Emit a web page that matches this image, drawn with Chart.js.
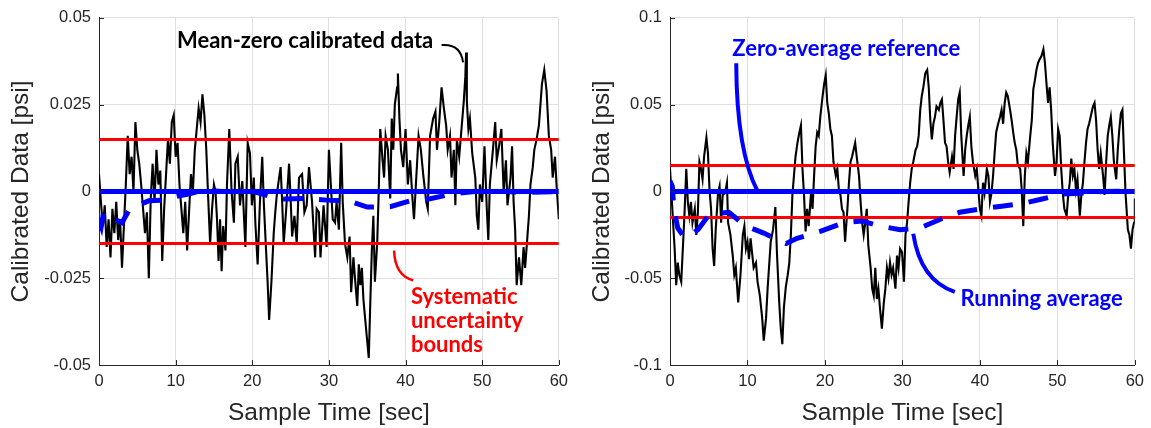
<!DOCTYPE html>
<html>
<head>
<meta charset="utf-8">
<script src="https://cdn.jsdelivr.net/npm/chart.js@4.4.1/dist/chart.umd.min.js"></script>
<style>
  html, body { margin: 0; padding: 0; background: #fff; }
  #wrap { position: relative; width: 1151px; height: 428px; }
  canvas { position: absolute; top: 0; }
  #left-chart { left: 0; }
  #right-chart { left: 575px; }
</style>
</head>
<body>
<div id="wrap">
  <canvas id="left-chart" width="575" height="428"></canvas>
  <canvas id="right-chart" width="576" height="428"></canvas>
</div>
<script>
// ticks
const xTicks = [0, 10, 20, 30, 40, 50, 60];
const leftYTicks = [-0.05, -0.025, 0, 0.025, 0.05];
const rightYTicks = [-0.1, -0.05, 0, 0.05, 0.1];

// systematic uncertainty bound and zero reference
const boundLevel = 0.015;
const zeroLevel = 0;

// left panel: mean-zero calibrated data
const leftTime = [0,0.25,0.5,0.75,1,1.25,1.5,1.75,2,2.25,2.5,2.75,3,3.25,3.5,3.75,4,4.25,4.5,4.75,
  5,5.25,5.5,5.75,6,6.25,6.5,6.75,7,7.25,7.5,7.75,8,8.25,8.5,8.75,9,9.25,9.5,9.75,
  10,10.25,10.5,10.75,11,11.25,11.5,11.75,12,12.25,12.5,12.75,13,13.25,13.5,13.75,14,14.25,14.5,14.75,
  15,15.2,15.4,15.6,15.8,16,16.2,16.5,16.7,17,17.3,17.6,17.8,18.1,18.4,18.7,19.1,19.4,19.7,19.95,
  20.2,20.4,20.7,21,21.3,21.5,21.8,22,22.2,22.5,22.8,23,23.2,23.5,23.7,23.9,24.1,24.4,24.8,25,
  25.2,25.5,25.8,26.1,26.5,26.8,27.1,27.4,27.8,28.2,28.4,28.7,28.9,29.3,29.7,30,30.3,30.5,30.8,31,
  31.3,31.6,31.8,32.1,32.4,32.7,32.9,33.2,33.4,33.7,33.9,34.1,34.3,34.5,34.7,34.95,35.2,35.4,35.6,35.8,
  36,36.3,36.5,36.7,37,37.2,37.4,37.7,38,38.2,38.4,38.6,38.9,39,39.2,39.4,39.7,40,40.3,40.6,
  40.9,41.1,41.4,41.7,42,42.3,42.7,42.9,43.2,43.6,43.9,44.1,44.4,44.7,45,45.3,45.5,45.8,46,46.3,
  46.5,46.7,47,47.3,47.6,47.8,47.9,48,48.2,48.4,48.7,49.1,49.3,49.5,49.7,50,50.3,50.6,50.8,51,
  51.4,51.7,51.9,52.2,52.5,52.8,53.1,53.3,53.7,53.9,54.1,54.3,54.5,54.8,55.1,55.4,55.6,55.9,56.1,56.3,
  56.6,56.8,57.1,57.4,57.8,58.1,58.4,58.7,59,59.2,59.5,59.7,60];
const leftValue = [0.005,-0.003,-0.010,-0.004,-0.016,-0.008,-0.019,-0.005,-0.012,-0.003,-0.014,-0.008,-0.022,-0.010,0.002,0.016,0.005,0.010,0.000,0.020,
  0.012,0.008,0.002,-0.005,-0.012,-0.006,-0.025,-0.002,0.008,-0.003,0.012,0.002,0.006,-0.020,-0.005,0.005,0.015,0.008,0.020,0.022,
  0.010,0.014,0.002,-0.005,-0.012,-0.003,-0.017,-0.006,0.005,0.000,0.012,0.018,0.024,0.020,0.028,0.022,0.012,-0.002,-0.015,-0.005,
  0.002,0.000,-0.008,-0.020,-0.008,-0.023,-0.010,-0.017,0.002,0.018,0.000,-0.009,0.008,0.010,-0.004,0.003,-0.016,0.014,0.011,-0.004,
  0.004,-0.009,-0.021,-0.003,0.010,-0.003,-0.017,-0.026,-0.037,-0.026,-0.012,-0.006,-0.001,0.004,0.007,-0.003,-0.015,-0.006,0.008,-0.002,
  -0.013,-0.007,-0.015,0.004,0.005,-0.006,-0.004,0.007,-0.003,-0.019,-0.005,-0.006,-0.019,-0.004,-0.016,0.012,0.000,-0.008,-0.009,-0.003,
  -0.011,0.014,-0.003,-0.015,-0.019,-0.013,-0.029,-0.019,-0.025,-0.033,-0.021,-0.027,-0.022,-0.031,-0.036,-0.042,-0.048,-0.032,-0.017,-0.007,
  -0.026,-0.015,0.000,0.018,0.009,0.004,0.016,0.012,-0.002,0.021,0.012,0.025,0.030,0.034,0.021,0.012,0.007,0.018,0.002,0.009,
  -0.002,-0.008,0.004,0.016,0.012,0.005,-0.003,-0.005,0.016,0.021,0.023,0.012,0.020,0.030,0.024,0.019,0.012,0.016,0.004,0.012,
  -0.004,0.015,0.010,0.018,0.026,0.033,0.040,0.026,0.018,0.021,0.011,0.004,-0.007,-0.011,0.002,-0.003,0.013,-0.005,-0.014,0.002,
  0.012,0.020,0.009,0.013,0.018,0.000,0.009,-0.004,0.004,0.013,-0.003,-0.011,-0.027,-0.019,-0.027,-0.016,-0.022,-0.013,-0.007,0.002,
  0.007,0.012,0.015,0.019,0.031,0.035,0.029,0.016,0.012,0.004,0.010,0.002,-0.008];

// left panel: running average
const leftAvgTime = [0,0.3,0.6,1,2,3,4,5,6.5,8.5,10,11.5,13,14,16,20,21.7,23,24.3,27,29.7,32.6,35,38,40.6,43.2,46.2,49,53,56,60];
const leftAvgValue = [-0.008,-0.010,-0.006,-0.007,-0.008,-0.009,-0.005,-0.004,-0.0027,-0.0025,-0.0015,-0.0008,0.0000,0.0003,0.0000,0.0000,-0.0010,-0.0020,-0.0022,-0.0020,-0.0025,-0.0027,-0.0045,-0.0044,-0.0027,-0.0021,-0.0007,0.0000,0.0000,-0.0003,0.0000];

// right panel: calibrated data
const rightTime = [0,0.2,0.4,0.6,0.8,1,1.2,1.45,1.7,1.9,2.1,2.3,2.5,2.7,2.9,3.2,3.4,3.6,3.8,4,
  4.2,4.4,4.7,4.9,5.1,5.3,5.5,5.7,5.9,6.2,6.4,6.6,6.8,7.1,7.35,7.5,7.8,8.1,8.3,8.5,
  8.8,9.1,9.4,9.6,9.8,10,10.2,10.4,10.8,11.1,11.3,11.6,11.9,12.1,12.4,12.6,13,13.3,13.6,13.8,
  14.1,14.3,14.5,14.7,14.95,15.2,15.4,15.6,15.8,16,16.2,16.45,16.7,16.9,17.1,17.3,17.5,17.7,17.9,18.2,
  18.4,18.6,18.8,19,19.2,19.4,19.7,19.9,20.1,20.3,20.5,20.7,20.9,21.1,21.4,21.6,21.8,22,22.2,22.4,
  22.6,22.9,23.1,23.3,23.5,23.7,23.9,24.1,24.4,24.6,24.8,25,25.2,25.4,25.6,25.9,26.1,26.3,26.5,26.7,
  26.9,27.1,27.35,27.6,27.8,28,28.2,28.4,28.6,28.8,29.1,29.3,29.5,29.7,29.95,30.2,30.4,30.6,30.8,31,
  31.2,31.4,31.7,31.9,32.1,32.3,32.5,32.7,32.95,33.2,33.4,33.6,33.8,34,34.2,34.4,34.7,34.9,35.1,35.3,
  35.5,35.7,35.9,36.1,36.4,36.6,36.8,37,37.2,37.4,37.6,37.9,38.1,38.3,38.5,38.7,38.9,39.1,39.4,39.6,
  39.8,40,40.2,40.4,40.6,40.9,41.1,41.3,41.5,41.7,41.9,42.1,42.3,42.6,42.8,43,43.2,43.4,43.6,43.9,
  44.1,44.3,44.5,44.7,44.9,45.2,45.4,45.6,45.8,46,46.2,46.5,46.7,46.9,47.1,47.3,47.5,47.7,47.95,48.2,
  48.4,48.6,48.8,49,49.2,49.4,49.7,49.9,50.1,50.3,50.5,50.7,50.9,51.2,51.4,51.6,51.8,52,52.2,52.4,
  52.6,52.9,53.1,53.3,53.5,53.7,53.9,54.1,54.4,54.6,54.8,55,55.2,55.4,55.6,55.9,56.1,56.3,56.5,56.7,
  56.9,57.1,57.3,57.6,57.8,58,58.2,58.4,58.6,58.8,59.1,59.3,59.5,59.7,59.9,60];
const rightValue = [0.013,-0.002,-0.018,-0.033,-0.054,-0.041,-0.048,-0.052,-0.029,-0.010,0.013,-0.006,-0.014,-0.006,-0.018,-0.010,-0.025,-0.012,0.017,0.013,
  0.007,0.020,0.031,0.022,0.001,-0.010,-0.033,-0.043,-0.022,-0.001,0.003,-0.018,-0.002,-0.001,0.005,-0.018,-0.025,-0.037,-0.048,-0.044,
  -0.064,-0.048,-0.025,-0.020,-0.033,-0.029,-0.039,-0.027,-0.044,-0.041,-0.052,-0.060,-0.073,-0.086,-0.073,-0.056,-0.029,-0.022,-0.009,-0.035,
  -0.064,-0.079,-0.088,-0.067,-0.055,-0.048,-0.041,-0.025,-0.002,0.009,0.020,0.028,0.034,0.038,0.013,-0.002,-0.023,-0.010,-0.020,-0.001,
  -0.010,0.009,0.026,0.034,0.032,0.043,0.055,0.062,0.067,0.051,0.045,0.036,0.032,0.017,0.009,0.013,0.001,-0.002,-0.010,-0.012,
  -0.029,-0.010,0.005,0.017,0.020,0.024,0.028,0.020,0.009,-0.006,-0.018,-0.025,-0.018,-0.010,-0.031,-0.044,-0.056,-0.060,-0.044,-0.062,
  -0.056,-0.067,-0.079,-0.064,-0.056,-0.044,-0.050,-0.041,-0.048,-0.044,-0.056,-0.037,-0.044,-0.033,-0.035,-0.052,-0.025,-0.018,-0.006,0.005,
  0.013,0.017,0.024,0.026,0.032,0.047,0.055,0.060,0.068,0.070,0.060,0.041,0.030,0.039,0.043,0.049,0.047,0.051,0.053,0.041,
  0.028,0.026,0.017,0.011,0.020,0.013,0.032,0.043,0.053,0.057,0.032,0.009,0.024,0.032,0.038,0.043,0.026,0.017,0.009,0.013,
  0.001,-0.010,-0.014,0.005,-0.001,0.013,0.009,-0.006,-0.001,0.009,0.022,0.034,0.038,0.043,0.047,0.039,0.051,0.057,0.055,0.047,
  0.041,0.034,0.028,0.024,0.015,0.013,0.001,-0.020,0.009,0.022,0.017,0.032,0.041,0.059,0.064,0.070,0.074,0.076,0.078,0.082,
  0.074,0.062,0.051,0.060,0.047,0.028,0.009,0.017,0.036,0.032,0.013,-0.001,-0.010,-0.014,-0.002,0.005,0.019,0.009,0.013,0.001,
  0.007,-0.014,-0.002,0.005,0.017,0.028,0.036,0.039,0.045,0.049,0.051,0.041,0.024,0.013,0.022,0.009,-0.002,0.017,0.032,0.038,
  0.043,0.032,0.017,0.007,0.024,0.036,0.045,0.047,0.022,-0.001,-0.022,-0.025,-0.033,-0.022,-0.018,-0.004];

// right panel: running average
const rightAvgTime = [0,0.3,0.5,1,1.9,2.7,3.6,5.1,7.6,9.8,12.1,14,15,16.4,19.4,22.4,24.8,27.1,29.7,32.3,34.9,37.4,40.2,42.8,45.4,47.9,50.7,53.5,56,60];
const rightAvgValue = [0.006,0.003,-0.010,-0.021,-0.027,-0.025,-0.022,-0.013,-0.012,-0.020,-0.024,-0.028,-0.030,-0.027,-0.023,-0.018,-0.017,-0.020,-0.022,-0.021,-0.016,-0.012,-0.010,-0.0085,-0.007,-0.0045,-0.0015,-0.0008,0.0000,0.0003];

const FONT = "'Liberation Sans', Arial, Helvetica, sans-serif";
const AXIS_COLOR = '#262626';
const NOTE_FONT = "bold 22px Lato, 'Open Sans', sans-serif";

function pts(ts, vs) { return ts.map((t, i) => ({ x: t, y: vs[i] })); }
function fmt(v) { return String(Number(v.toFixed(3))); }

// small inward tick marks like the original axes
const innerTicks = {
  id: 'innerTicks',
  afterDatasetsDraw(chart) {
    const { ctx, chartArea: a, scales: { x, y } } = chart;
    ctx.save();
    ctx.strokeStyle = AXIS_COLOR;
    ctx.lineWidth = 1;
    ctx.beginPath();
    x.ticks.forEach(t => {
      const px = Math.round(x.getPixelForValue(t.value)) + 0.5;
      ctx.moveTo(px, a.bottom); ctx.lineTo(px, a.bottom - 5);
    });
    y.ticks.forEach(t => {
      const py = Math.round(y.getPixelForValue(t.value)) + 0.5;
      ctx.moveTo(a.left, py); ctx.lineTo(a.left + 5, py);
    });
    ctx.stroke();
    ctx.restore();
  }
};

// text labels and their curved leader lines
const callouts = {
  id: 'callouts',
  afterDatasetsDraw(chart, args, opts) {
    const { ctx, scales: { x, y } } = chart;
    const P = p => [x.getPixelForValue(p[0]), y.getPixelForValue(p[1])];
    ctx.save();
    (opts.leaders || []).forEach(l => {
      const a = P(l.from), c = P(l.via), b = P(l.to);
      ctx.strokeStyle = l.color;
      ctx.lineWidth = l.width;
      ctx.beginPath();
      ctx.moveTo(a[0], a[1]);
      ctx.quadraticCurveTo(c[0], c[1], b[0], b[1]);
      ctx.stroke();
    });
    ctx.font = NOTE_FONT;
    ctx.textAlign = 'left';
    ctx.textBaseline = 'alphabetic';
    (opts.notes || []).forEach(n => {
      const p = P(n.at);
      ctx.fillStyle = n.color;
      n.text.forEach((line, i) => ctx.fillText(line, p[0], p[1] + i * 24));
    });
    ctx.restore();
  }
};

function makeChart(id, cfg) {
  const tickFont = { family: FONT, size: 16.5 };
  const titleFont = { family: FONT, size: 24.5, lineHeight: 1.2 };
  return new Chart(document.getElementById(id), {
    type: 'line',
    data: {
      datasets: [
        { data: pts(cfg.avgTime, cfg.avgValue), borderColor: '#0000ff', borderWidth: 5, borderDash: [20, 16], order: 1 },
        { data: pts([0, 60], [zeroLevel, zeroLevel]), borderColor: '#0000ff', borderWidth: 5, order: 2 },
        { data: pts([0, 60], [boundLevel, boundLevel]), borderColor: '#ff0000', borderWidth: 3, order: 3 },
        { data: pts([0, 60], [-boundLevel, -boundLevel]), borderColor: '#ff0000', borderWidth: 3, order: 3 },
        { data: pts(cfg.time, cfg.value), borderColor: '#000000', borderWidth: 2.1, order: 10 }
      ]
    },
    options: {
      responsive: false,
      animation: false,
      events: [],
      elements: { point: { radius: 0 }, line: { tension: 0, fill: false } },
      layout: { padding: cfg.padding },
      plugins: {
        legend: { display: false },
        tooltip: { enabled: false },
        callouts: { notes: cfg.notes, leaders: cfg.leaders }
      },
      scales: {
        x: {
          type: 'linear', min: 0, max: 60,
          afterBuildTicks: s => { s.ticks = xTicks.map(v => ({ value: v })); },
          afterFit: s => { s.height = 63; },
          ticks: { font: tickFont, color: AXIS_COLOR, padding: 7, maxRotation: 0, autoSkip: false },
          grid: { color: '#dfdfdf', drawTicks: false },
          border: { color: AXIS_COLOR, width: 1 },
          title: { display: true, text: 'Sample Time [sec]', font: titleFont, color: AXIS_COLOR, padding: { top: 0, bottom: 0 } }
        },
        y: {
          type: 'linear', min: cfg.yTicks[0], max: cfg.yTicks[cfg.yTicks.length - 1],
          afterBuildTicks: s => { s.ticks = cfg.yTicks.map(v => ({ value: v })); },
          afterFit: s => { s.width = cfg.yWidth; },
          ticks: { font: tickFont, color: AXIS_COLOR, padding: 8, callback: v => fmt(v) },
          grid: { color: '#dfdfdf', drawTicks: false },
          border: { color: AXIS_COLOR, width: 1 },
          title: { display: true, text: 'Calibrated Data [psi]', font: titleFont, color: AXIS_COLOR, padding: { top: cfg.titlePad, bottom: 0 } }
        }
      }
    },
    plugins: [innerTicks, callouts]
  });
}

makeChart('left-chart', {
  time: leftTime, value: leftValue, avgTime: leftAvgTime, avgValue: leftAvgValue,
  yTicks: leftYTicks, yWidth: 99, titlePad: 7, padding: { left: 0, right: 15.7, top: 16, bottom: 0 },
  notes: [
    { text: ['Mean-zero calibrated data'], color: '#000000', at: [10.17, 0.0413] },
    { text: ['Systematic', 'uncertainty', 'bounds'], color: '#ff0000', at: [40.7, -0.0325] }
  ],
  leaders: [
    { color: '#000000', width: 2, from: [44.7, 0.0422], via: [47.22, 0.0426], to: [47.5, 0.0372] },
    { color: '#ff0000', width: 2.5, from: [38.5, -0.0170], via: [38.61, -0.0242], to: [41.0, -0.0256] }
  ]
});

makeChart('right-chart', {
  time: rightTime, value: rightValue, avgTime: rightAvgTime, avgValue: rightAvgValue,
  yTicks: rightYTicks, yWidth: 95, titlePad: 12.5, padding: { left: 0, right: 12.7, top: 16, bottom: 0 },
  notes: [
    { text: ['Zero-average reference'], color: '#0000ff', at: [8.04, 0.0782] },
    { text: ['Running average'], color: '#0000ff', at: [37.5, -0.0661] }
  ],
  leaders: [
    { color: '#0000ff', width: 4, from: [8.55, 0.0739], via: [8.59, 0.0233], to: [11.32, 0] },
    { color: '#0000ff', width: 4, from: [31.4, -0.0244], via: [32.31, -0.0512], to: [36.76, -0.0579] }
  ]
});
</script>
</body>
</html>
